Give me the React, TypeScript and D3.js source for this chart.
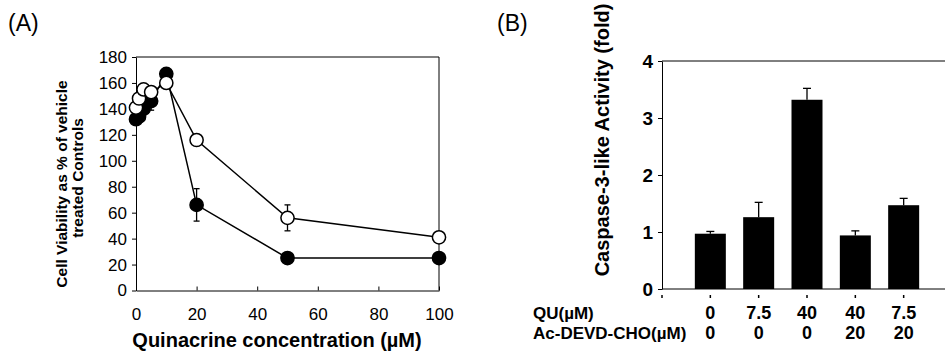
import { useEffect, useRef } from "react";
import * as d3 from "d3";

// panel A - viability
const doses = [0, 1, 2.5, 5, 10, 20, 50, 100];
const filledVals = [132, 134, 140, 146, 167, 66, 25, 25];
const filledErr = [0, 0, 0, 7, 0, 12.5, 0, 0];
const openVals = [141, 148, 155, 153, 160, 116, 56, 41];
const openErr = [0, 0, 0, 0, 0, 0, 10, 0];
const xTicksA = [0, 20, 40, 60, 80, 100];
const yTicksA = [0, 20, 40, 60, 80, 100, 120, 140, 160, 180];

// panel B - caspase
const quLabels = ["0", "7.5", "40", "40", "7.5"];
const devdLabels = ["0", "0", "0", "20", "20"];
const caspase = [0.97, 1.26, 3.32, 0.94, 1.47];
const caspaseErr = [0.04, 0.26, 0.2, 0.08, 0.12];
const yTicksB = [0, 1, 2, 3, 4];

const FONT = "'Liberation Sans', Arial, sans-serif";

export default function App() {
    const ref = useRef<SVGSVGElement>(null);

    useEffect(() => {
        const svg = d3.select(ref.current);
        svg.selectAll("*").remove();
        svg.style("font-family", FONT);

        // ---------- (A) ----------
        const x = d3.scaleLinear().domain([0, 100]).range([136, 439]);
        const y = d3.scaleLinear().domain([0, 180]).range([290.5, 57]);

        svg.append("text").attr("x", 8).attr("y", 31)
            .attr("font-size", 23).text("(A)");

        // frame
        svg.append("line").attr("x1", x(0)).attr("x2", x(100)).attr("y1", y(180)).attr("y2", y(180))
            .attr("stroke", "black").attr("stroke-width", 1);
        svg.append("line").attr("x1", x(100)).attr("x2", x(100)).attr("y1", y(180)).attr("y2", y(0))
            .attr("stroke", "black").attr("stroke-width", 1);

        const yAxisA = svg.append("g").attr("transform", `translate(${x(0)},0)`)
            .call(d3.axisLeft(y).tickValues(yTicksA).tickSize(4).tickSizeOuter(0).tickPadding(5));
        yAxisA.selectAll("text").attr("font-size", 17).attr("font-family", FONT).attr("fill", "black");

        const xAxisA = svg.append("g").attr("transform", `translate(0,${y(0)})`)
            .call(d3.axisBottom(x).tickValues(xTicksA).tickSize(-4).tickSizeOuter(0).tickPadding(17));
        xAxisA.selectAll("text").attr("font-size", 17).attr("font-family", FONT).attr("fill", "black");

        svg.append("text").attr("x", 277).attr("y", 347).attr("text-anchor", "middle")
            .attr("font-size", 20).attr("font-weight", "bold").text("Quinacrine concentration (\u00b5M)");

        svg.append("text").attr("transform", "translate(67,184) rotate(-90)").attr("text-anchor", "middle")
            .attr("font-size", 15.5).attr("font-weight", "bold").text("Cell Viability as % of vehicle");
        svg.append("text").attr("transform", "translate(83,178) rotate(-90)").attr("text-anchor", "middle")
            .attr("font-size", 15.5).attr("font-weight", "bold").text("treated Controls");

        const line = d3.line<number>().x((d, i) => x(doses[i])).y(d => y(d));
        const series = [
            { vals: filledVals, err: filledErr, fill: "black" },
            { vals: openVals, err: openErr, fill: "white" },
        ];
        series.forEach(s => {
            svg.append("path").datum(s.vals).attr("fill", "none").attr("stroke", "black")
                .attr("stroke-width", 1.5).attr("d", line);
        });
        series.forEach(s => {
            const g = svg.append("g");
            s.vals.forEach((v, i) => {
                if (s.err[i] > 0) {
                    const cx = x(doses[i]);
                    g.append("line").attr("x1", cx).attr("x2", cx)
                        .attr("y1", y(v - s.err[i])).attr("y2", y(v + s.err[i]))
                        .attr("stroke", "black").attr("stroke-width", 1.3);
                    [v - s.err[i], v + s.err[i]].forEach(e => {
                        g.append("line").attr("x1", cx - 3).attr("x2", cx + 3)
                            .attr("y1", y(e)).attr("y2", y(e)).attr("stroke", "black").attr("stroke-width", 1.3);
                    });
                }
            });
            g.selectAll("circle").data(s.vals).join("circle")
                .attr("cx", (d, i) => x(doses[i])).attr("cy", d => y(d)).attr("r", 6.6)
                .attr("fill", s.fill).attr("stroke", "black").attr("stroke-width", 1.5);
        });

        // ---------- (B) ----------
        const xb = d3.scaleLinear().domain([0, 6]).range([662, 952]);
        const yb = d3.scaleLinear().domain([0, 4]).range([289, 61]);
        const barW = 31;

        svg.append("text").attr("x", 497).attr("y", 31)
            .attr("font-size", 23).text("(B)");

        svg.append("line").attr("x1", xb(0)).attr("x2", 945).attr("y1", yb(4)).attr("y2", yb(4))
            .attr("stroke", "black").attr("stroke-width", 1);

        const yAxisB = svg.append("g").attr("transform", `translate(${xb(0)},0)`)
            .call(d3.axisLeft(yb).tickValues(yTicksB).tickFormat(d3.format("d")).tickSize(4).tickSizeOuter(0).tickPadding(5));
        yAxisB.selectAll("text").attr("font-size", 19).attr("font-weight", "bold")
            .attr("font-family", FONT).attr("fill", "black");

        svg.append("g").selectAll("rect").data(caspase).join("rect")
            .attr("x", (d, i) => xb(i + 1) - barW / 2).attr("width", barW)
            .attr("y", d => yb(d)).attr("height", d => yb(0) - yb(d)).attr("fill", "black");

        caspase.forEach((v, i) => {
            const cx = xb(i + 1);
            svg.append("line").attr("x1", cx).attr("x2", cx).attr("y1", yb(v)).attr("y2", yb(v + caspaseErr[i]))
                .attr("stroke", "black").attr("stroke-width", 1.3);
            svg.append("line").attr("x1", cx - 4).attr("x2", cx + 4)
                .attr("y1", yb(v + caspaseErr[i])).attr("y2", yb(v + caspaseErr[i]))
                .attr("stroke", "black").attr("stroke-width", 1.3);
        });

        // bottom axis line + small ticks
        svg.append("line").attr("x1", xb(0)).attr("x2", 945).attr("y1", yb(0)).attr("y2", yb(0))
            .attr("stroke", "black").attr("stroke-width", 1);
        d3.range(0, 6).forEach(i => {
            svg.append("line").attr("x1", xb(i)).attr("x2", xb(i)).attr("y1", yb(0) + 6).attr("y2", yb(0) + 9)
                .attr("stroke", "black").attr("stroke-width", 1.5);
        });

        svg.append("text").attr("transform", "translate(609,140) rotate(-90)").attr("text-anchor", "middle")
            .attr("font-size", 20).attr("font-weight", "bold").text("Caspase-3-like Activity (fold)");

        svg.append("text").attr("x", 533).attr("y", 319).attr("font-size", 17).attr("font-weight", "bold")
            .text("QU(\u00b5M)");
        svg.append("text").attr("x", 533).attr("y", 339).attr("font-size", 17).attr("font-weight", "bold")
            .text("Ac-DEVD-CHO(\u00b5M)");

        quLabels.forEach((t, i) => {
            svg.append("text").attr("x", xb(i + 1)).attr("y", 319).attr("text-anchor", "middle")
                .attr("font-size", 18).attr("font-weight", "bold").text(t);
        });
        devdLabels.forEach((t, i) => {
            svg.append("text").attr("x", xb(i + 1)).attr("y", 339).attr("text-anchor", "middle")
                .attr("font-size", 18).attr("font-weight", "bold").text(t);
        });
    }, []);

    return (
        <svg ref={ref} width={945} height={353}
            style={{ position: "absolute", left: 0, top: 0, background: "white" }} />
    );
}
